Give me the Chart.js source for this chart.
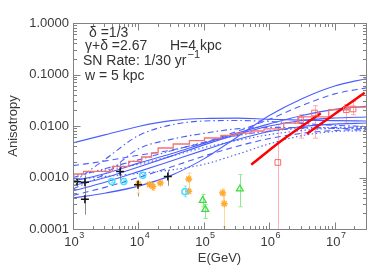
<!DOCTYPE html>
<html><head><meta charset="utf-8">
<script src="https://cdn.jsdelivr.net/npm/chart.js@4.4.0/dist/chart.umd.min.js"></script>
<style>html,body{margin:0;padding:0;background:#fff;}#wrap{width:388px;height:277px;position:relative;}</style>
</head><body><div id="wrap"><canvas id="c" width="388" height="277"></canvas></div>
<script>
// ---------- data ----------
const xMin = 1e3, xMax = 3e7, yMin = 1e-4, yMax = 1;
const yTickValues = [1e-4, 1e-3, 1e-2, 1e-1, 1];
const yTickLabels = ["0.0001", "0.0010", "0.0100", "0.1000", "1.0000"];
const xTickExponents = [3, 4, 5, 6, 7];

// model curves (energy grid, anisotropy)
const modelE = [1e3, 3.16e3, 1e4, 3.16e4, 1e5, 3.16e5, 1e6, 3.16e6, 1e7, 3e7];
const solidA = [0.0047, 0.0068, 0.0098, 0.0127, 0.0140, 0.0142, 0.0135, 0.0130, 0.0127, 0.0125];
const solidB = [0.00040, 0.00050, 0.00068, 0.0011, 0.0023, 0.0060, 0.0160, 0.0340, 0.0600, 0.0830];
const solidC = [0.00085, 0.0012, 0.0019, 0.0029, 0.0046, 0.0072, 0.0110, 0.0160, 0.0210, 0.0240];
const solidD = [0.00070, 0.0010, 0.0016, 0.0026, 0.0043, 0.0068, 0.0100, 0.0128, 0.0143, 0.0150];
const solidE = [0.00055, 0.00082, 0.0013, 0.0021, 0.0034, 0.0054, 0.0078, 0.0098, 0.0109, 0.0114];
const dashedA = [0.0017, 0.0021, 0.0027, 0.0034, 0.0048, 0.0078, 0.0135, 0.0250, 0.0420, 0.0550];
const dashedB = [0.00045, 0.00065, 0.0010, 0.0016, 0.0026, 0.0040, 0.0057, 0.0072, 0.0082, 0.0085];
const dashDotA = [0.0008, 0.0023, 0.0065, 0.0105, 0.0125, 0.0128, 0.0122, 0.0112, 0.0103, 0.0098];
const dashDotB = [0.0006, 0.0012, 0.0036, 0.0055, 0.0072, 0.0088, 0.0094, 0.0093, 0.0090, 0.0088];
const dottedA = [0.0009, 0.00105, 0.0012, 0.0014, 0.0018, 0.0028, 0.0045, 0.0065, 0.0078, 0.0081];
const dottedB = [0.0011, 0.0014, 0.0018, 0.0026, 0.0038, 0.0052, 0.0068, 0.0082, 0.0090, 0.0092];
const dashDotDot = [0.0010, 0.0015, 0.0022, 0.0033, 0.0048, 0.0065, 0.0080, 0.0090, 0.0094, 0.0095];

// step histogram (bin start energies, values)
const histE = [1000, 1450, 4000, 7100, 11200, 15800, 20000, 34000, 60000, 102000, 182000, 316000, 525000, 830000, 1.66e6, 2.8e6, 8.1e6, 1.6e7, 3e7];
const histA = [0.00117, 0.00131, 0.00164, 0.00206, 0.0025, 0.0030, 0.00374, 0.00447, 0.00518, 0.00585, 0.00657, 0.0073, 0.0080, 0.0088, 0.0114, 0.0151, 0.0207, 0.0233, 0.0233];

// thick red power-law lines
const redLine1E = [5.3e5, 1.6e6, 6.1e6];
const redLine1A = [0.00177, 0.0054, 0.0177];
const redLine2E = [3.75e6, 2.86e7];
const redLine2A = [0.0071, 0.0443];

// measurements
const redSqE = [1.35e6, 3.0e6, 4.9e6, 1.5e7, 1.9e7];
const redSqA = [0.00196, 0.0132, 0.0179, 0.0207, 0.0214];
const redSqLo = [0.00008, 0.0058, 0.0058, 0.0114, 0.0166];
const redSqHi = [0.0106, 0.0166, 0.0248, 0.026, 0.030];

const blackE = [1150, 1520, 1520, 5250, 9840, 28100];
const blackA = [0.00083, 0.00081, 0.00038, 0.00131, 0.00072, 0.00105];
const blackLo = [0.00070, 0.00065, 0.00019, 0.00085, 0.00043, 0.00069];
const blackHi = [0.00098, 0.0011, 0.00091, 0.0019, 0.0009, 0.0014];

const cyanE = [3920, 5970, 11600, 51300];
const cyanA = [0.00084, 0.00084, 0.0011, 0.00053];
const cyanLo = [0.00080, 0.00080, 0.00105, 0.00042];
const cyanHi = [0.00088, 0.00088, 0.00115, 0.00068];

const orangeE = [9980, 14800, 16600, 21600, 58700, 58700, 193000, 205000];
const orangeA = [0.00075, 0.00073, 0.00067, 0.00078, 0.00094, 0.00054, 0.00050, 0.00031];
const orangeLo = [0.00050, 0.00068, 0.00056, 0.00073, 0.00054, 0.00054, 0.00035, 0.00011];
const orangeHi = [0.00085, 0.00078, 0.00082, 0.00083, 0.00122, 0.00094, 0.00060, 0.00045];

const greenE = [96000, 105000, 355000];
const greenA = [0.00036, 0.00024, 0.00060];
const greenLo = [0.00027, 0.00016, 0.00027];
const greenHi = [0.00047, 0.00030, 0.00114];

// ---------- helpers ----------
const pts = (xs, ys) => xs.map((x, i) => ({x: x, y: ys[i]}));
const BLUE = 'rgb(75,95,255)';
function model(ys, dash) {
  return {data: pts(modelE, ys), borderColor: BLUE, borderWidth: 1.1, borderDash: dash,
    pointRadius: 0, fill: false, cubicInterpolationMode: 'monotone'};
}
function marks(xs, ys, style, color, bg, r, bw) {
  return {data: pts(xs, ys), showLine: false, pointStyle: style, pointRadius: r,
    pointBorderColor: color, pointBackgroundColor: bg, pointBorderWidth: bw, borderColor: color};
}

const errorSets = [
  {E: redSqE, lo: redSqLo, hi: redSqHi, color: 'rgba(255,150,150,0.75)', cap: 2.5},
  {E: blackE, lo: blackLo, hi: blackHi, color: 'rgb(140,140,140)', cap: 0},
  {E: cyanE, lo: cyanLo, hi: cyanHi, color: 'rgb(140,230,255)', cap: 1.5},
  {E: orangeE, lo: orangeLo, hi: orangeHi, color: 'rgb(255,215,150)', cap: 2},
  {E: greenE, lo: greenLo, hi: greenHi, color: 'rgb(140,235,140)', cap: 2}
];

const frame = {
  id: 'frame',
  beforeDatasetsDraw(chart) {
    const {ctx, chartArea: a, scales: {x, y}} = chart;
    ctx.save();
    ctx.beginPath(); ctx.rect(a.left, a.top, a.right - a.left, a.bottom - a.top); ctx.clip();
    errorSets.forEach(s => {
      ctx.strokeStyle = s.color; ctx.lineWidth = 1;
      s.E.forEach((e, i) => {
        const px = Math.round(x.getPixelForValue(e)) + 0.5;
        const p1 = y.getPixelForValue(s.lo[i]), p2 = y.getPixelForValue(s.hi[i]);
        ctx.beginPath(); ctx.moveTo(px, p1); ctx.lineTo(px, p2);
        if (s.cap) {
          ctx.moveTo(px - s.cap, p1); ctx.lineTo(px + s.cap, p1);
          ctx.moveTo(px - s.cap, p2); ctx.lineTo(px + s.cap, p2);
        }
        ctx.stroke();
      });
    });
    ctx.restore();
  },
  afterDraw(chart) {
    const {ctx, chartArea: a, scales: {x, y}} = chart;
    ctx.save();
    const L = Math.round(a.left) + 0.5, R = Math.round(a.right) + 0.5;
    const T = Math.round(a.top) + 0.5, B = Math.round(a.bottom) + 0.5;
    ctx.strokeStyle = 'rgb(130,130,130)'; ctx.lineWidth = 1;
    ctx.strokeRect(L, T, R - L, B - T);
    ctx.beginPath();
    for (let d = -4; d <= 0; d++) {
      for (let m = 1; m <= 9; m++) {
        const v = m * Math.pow(10, d);
        if (v < yMin * 0.999 || v > yMax * 1.001) continue;
        const py = Math.round(y.getPixelForValue(v)) + 0.5;
        const len = m === 1 ? 7 : 3.5;
        ctx.moveTo(L, py); ctx.lineTo(L + len, py);
        ctx.moveTo(R, py); ctx.lineTo(R - len, py);
      }
    }
    for (let d = 3; d <= 7; d++) {
      for (let m = 1; m <= 9; m++) {
        const v = m * Math.pow(10, d);
        if (v < xMin * 0.999 || v > xMax * 1.001) continue;
        const px = Math.round(x.getPixelForValue(v)) + 0.5;
        const len = m === 1 ? 7 : 3.5;
        ctx.moveTo(px, B); ctx.lineTo(px, B - len);
        ctx.moveTo(px, T); ctx.lineTo(px, T + len);
      }
    }
    ctx.stroke();

    ctx.fillStyle = '#3a3a3a';
    ctx.font = '13px "Liberation Sans", Arial, sans-serif';
    ctx.textAlign = 'right'; ctx.textBaseline = 'middle';
    yTickValues.forEach((v, i) => ctx.fillText(yTickLabels[i], 69, y.getPixelForValue(v)));
    xTickExponents.forEach(n => {
      const px = x.getPixelForValue(Math.pow(10, n));
      ctx.font = '13px "Liberation Sans", Arial, sans-serif';
      const w1 = ctx.measureText('10').width;
      ctx.font = '9px "Liberation Sans", Arial, sans-serif';
      const w2 = ctx.measureText(String(n)).width;
      const x0 = px - (w1 + w2) / 2 + 1;
      ctx.textAlign = 'left';
      ctx.font = '13px "Liberation Sans", Arial, sans-serif';
      ctx.fillText('10', x0, 242);
      ctx.font = '9px "Liberation Sans", Arial, sans-serif';
      ctx.fillText(String(n), x0 + w1 + 0.5, 236);
    });
    ctx.font = '13px "Liberation Sans", Arial, sans-serif';
    ctx.textAlign = 'center';
    ctx.fillText('E(GeV)', (a.left + a.right) / 2, 258);
    ctx.save();
    ctx.translate(13, (a.top + a.bottom) / 2);
    ctx.rotate(-Math.PI / 2);
    ctx.fillText('Anisotropy', 0, 0);
    ctx.restore();
    ctx.fillStyle = '#333';
    ctx.textAlign = 'left';
    ctx.font = '14px "Liberation Sans", Arial, sans-serif';
    ctx.fillText('\u03B4 =1/3', 89, 33);
    ctx.fillText('\u03B3+\u03B4 =2.67', 85, 46);
    ctx.fillText('H=4 kpc', 170, 46);
    ctx.fillText('SN Rate: 1/30 yr', 83, 61);
    const wsn = ctx.measureText('SN Rate: 1/30 yr').width;
    ctx.font = '11px "Liberation Sans", Arial, sans-serif';
    ctx.fillText('\u22121', 83 + wsn + 1, 55);
    ctx.font = '14px "Liberation Sans", Arial, sans-serif';
    ctx.fillText('w = 5 kpc', 85, 76);
    ctx.restore();
  }
};

const datasets = [
  marks(redSqE, redSqA, 'rect', 'rgb(240,110,110)', 'rgba(0,0,0,0)', 4, 1),
  marks(blackE, blackA, 'cross', 'rgb(20,20,20)', 'rgba(0,0,0,0)', 4, 1.5),
  marks(cyanE, cyanA, 'circle', 'rgb(70,220,255)', 'rgba(0,0,0,0)', 3, 1.5),
  marks(orangeE, orangeA, 'star', 'rgb(255,170,50)', 'rgba(255,190,90,0.8)', 3.5, 1.5),
  marks(greenE, greenA, 'triangle', 'rgb(60,220,60)', 'rgba(0,0,0,0)', 4, 1.2),
  {data: pts(redLine1E, redLine1A), borderColor: 'rgb(255,0,0)', borderWidth: 2.5, pointRadius: 0, cubicInterpolationMode: 'monotone'},
  {data: pts(redLine2E, redLine2A), borderColor: 'rgb(255,0,0)', borderWidth: 2.5, pointRadius: 0},
  {data: pts(histE, histA), borderColor: 'rgb(245,115,115)', borderWidth: 1.3, pointRadius: 0, stepped: true},
  model(solidA, []),
  model(solidB, []),
  model(solidC, []),
  model(solidD, []),
  model(solidE, []),
  model(dashedA, [6, 4]),
  model(dashedB, [6, 4]),
  model(dashDotA, [6, 3, 1.5, 3]),
  model(dashDotB, [6, 3, 1.5, 3]),
  model(dottedA, [1.5, 2.5]),
  model(dottedB, [1.5, 2.5]),
  model(dashDotDot, [6, 2.5, 1.5, 2.5, 1.5, 2.5])
];

new Chart(document.getElementById('c'), {
  type: 'line',
  data: {datasets: datasets},
  options: {
    responsive: false, animation: false, devicePixelRatio: 1,
    layout: {padding: {left: 73, right: 22, top: 23, bottom: 48}},
    plugins: {legend: {display: false}, tooltip: {enabled: false}},
    scales: {
      x: {type: 'logarithmic', min: xMin, max: xMax, display: false},
      y: {type: 'logarithmic', min: yMin, max: yMax, display: false}
    }
  },
  plugins: [frame]
});
</script></body></html>
